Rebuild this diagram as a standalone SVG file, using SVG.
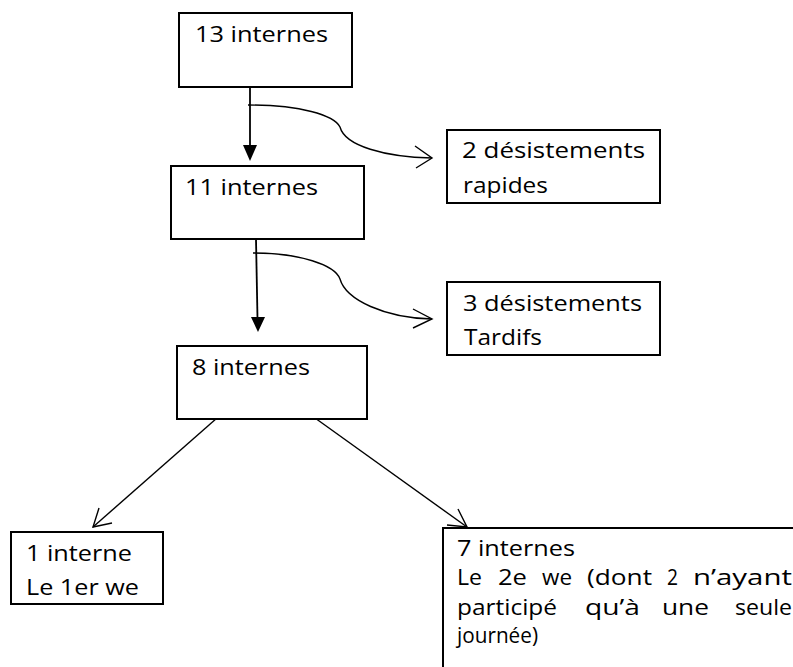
<svg xmlns="http://www.w3.org/2000/svg" width="793" height="667" viewBox="0 0 793 667">
<style>
.box{fill:#fff;stroke:#000;stroke-width:2}
.t{font-family:"Open Sans","Liberation Sans",sans-serif;font-size:21px;fill:#000}
.ln{fill:none;stroke:#000;stroke-width:1.4}
.lnv{fill:none;stroke:#000;stroke-width:1.8}
.head{fill:#000;stroke:none}
</style>
<rect width="793" height="667" fill="#fff"/>
<g id="connectors">
  <line class="lnv" x1="250" y1="87" x2="250" y2="147"/>
  <polygon class="head" points="250,161 243,145 257,145"/>
  <path class="ln" d="M248,105 C300,105 334,115 340,127 C345,146 385,157 432,158"/>
  <polyline class="ln" points="415,146 432,158 416,168"/>
  <line class="lnv" x1="256" y1="239" x2="257.5" y2="319"/>
  <polygon class="head" points="258,332 251,317 265,317"/>
  <path class="ln" d="M253,253 C300,253 335,265 340,279 C346,300 385,318 432,319"/>
  <polyline class="ln" points="413,309 432,319 413,328"/>
  <line class="ln" x1="217" y1="418" x2="93" y2="527"/>
  <polyline class="ln" points="99,508 93,527 112,523"/>
  <line class="ln" x1="315" y1="418" x2="467" y2="527"/>
  <polyline class="ln" points="458,509 467,527 447,525"/>
</g>
<g id="n13">
  <rect class="box" x="179" y="13" width="173" height="74"/>
  <text class="t" x="195" y="42" textLength="133" lengthAdjust="spacingAndGlyphs">13 internes</text>
</g>
<g id="d2">
  <rect class="box" x="447" y="130" width="213" height="73"/>
  <text class="t" x="462" y="158" textLength="183" lengthAdjust="spacingAndGlyphs">2 désistements</text>
  <text class="t" x="463" y="193" textLength="85" lengthAdjust="spacingAndGlyphs">rapides</text>
</g>
<g id="n11">
  <rect class="box" x="171" y="166" width="193" height="73"/>
  <text class="t" x="185" y="195" textLength="133" lengthAdjust="spacingAndGlyphs">11 internes</text>
</g>
<g id="d3">
  <rect class="box" x="447" y="282" width="213" height="73"/>
  <text class="t" x="463" y="311" textLength="179" lengthAdjust="spacingAndGlyphs">3 désistements</text>
  <text class="t" x="464" y="345" textLength="78" lengthAdjust="spacingAndGlyphs">Tardifs</text>
</g>
<g id="n8">
  <rect class="box" x="177" y="346" width="190" height="73"/>
  <text class="t" x="192" y="375" textLength="118" lengthAdjust="spacingAndGlyphs">8 internes</text>
</g>
<g id="n1">
  <rect class="box" x="11" y="532" width="152" height="72"/>
  <text class="t" x="26" y="561" textLength="106" lengthAdjust="spacingAndGlyphs">1 interne</text>
  <text class="t" x="26" y="595" textLength="113" lengthAdjust="spacingAndGlyphs">Le 1er we</text>
</g>
<g id="n7">
  <rect class="box" x="443" y="528" width="370" height="160"/>
  <text class="t" x="457" y="556" textLength="118" lengthAdjust="spacingAndGlyphs">7 internes</text>
  <text class="t" y="585"><tspan x="457" textLength="25" lengthAdjust="spacingAndGlyphs">Le</tspan> <tspan x="498" textLength="29" lengthAdjust="spacingAndGlyphs">2e</tspan> <tspan x="542" textLength="30" lengthAdjust="spacingAndGlyphs">we</tspan> <tspan x="587" textLength="65" lengthAdjust="spacingAndGlyphs">(dont</tspan> <tspan x="667" textLength="11" lengthAdjust="spacingAndGlyphs">2</tspan> <tspan x="693" textLength="99" lengthAdjust="spacingAndGlyphs">n’ayant</tspan></text>
  <text class="t" y="615"><tspan x="457" textLength="100" lengthAdjust="spacingAndGlyphs">participé</tspan> <tspan x="585" textLength="55" lengthAdjust="spacingAndGlyphs">qu’à</tspan> <tspan x="662" textLength="47" lengthAdjust="spacingAndGlyphs">une</tspan> <tspan x="735" textLength="57" lengthAdjust="spacingAndGlyphs">seule</tspan></text>
  <text class="t" x="457" y="643" textLength="81" lengthAdjust="spacingAndGlyphs">journée)</text>
</g>
</svg>
